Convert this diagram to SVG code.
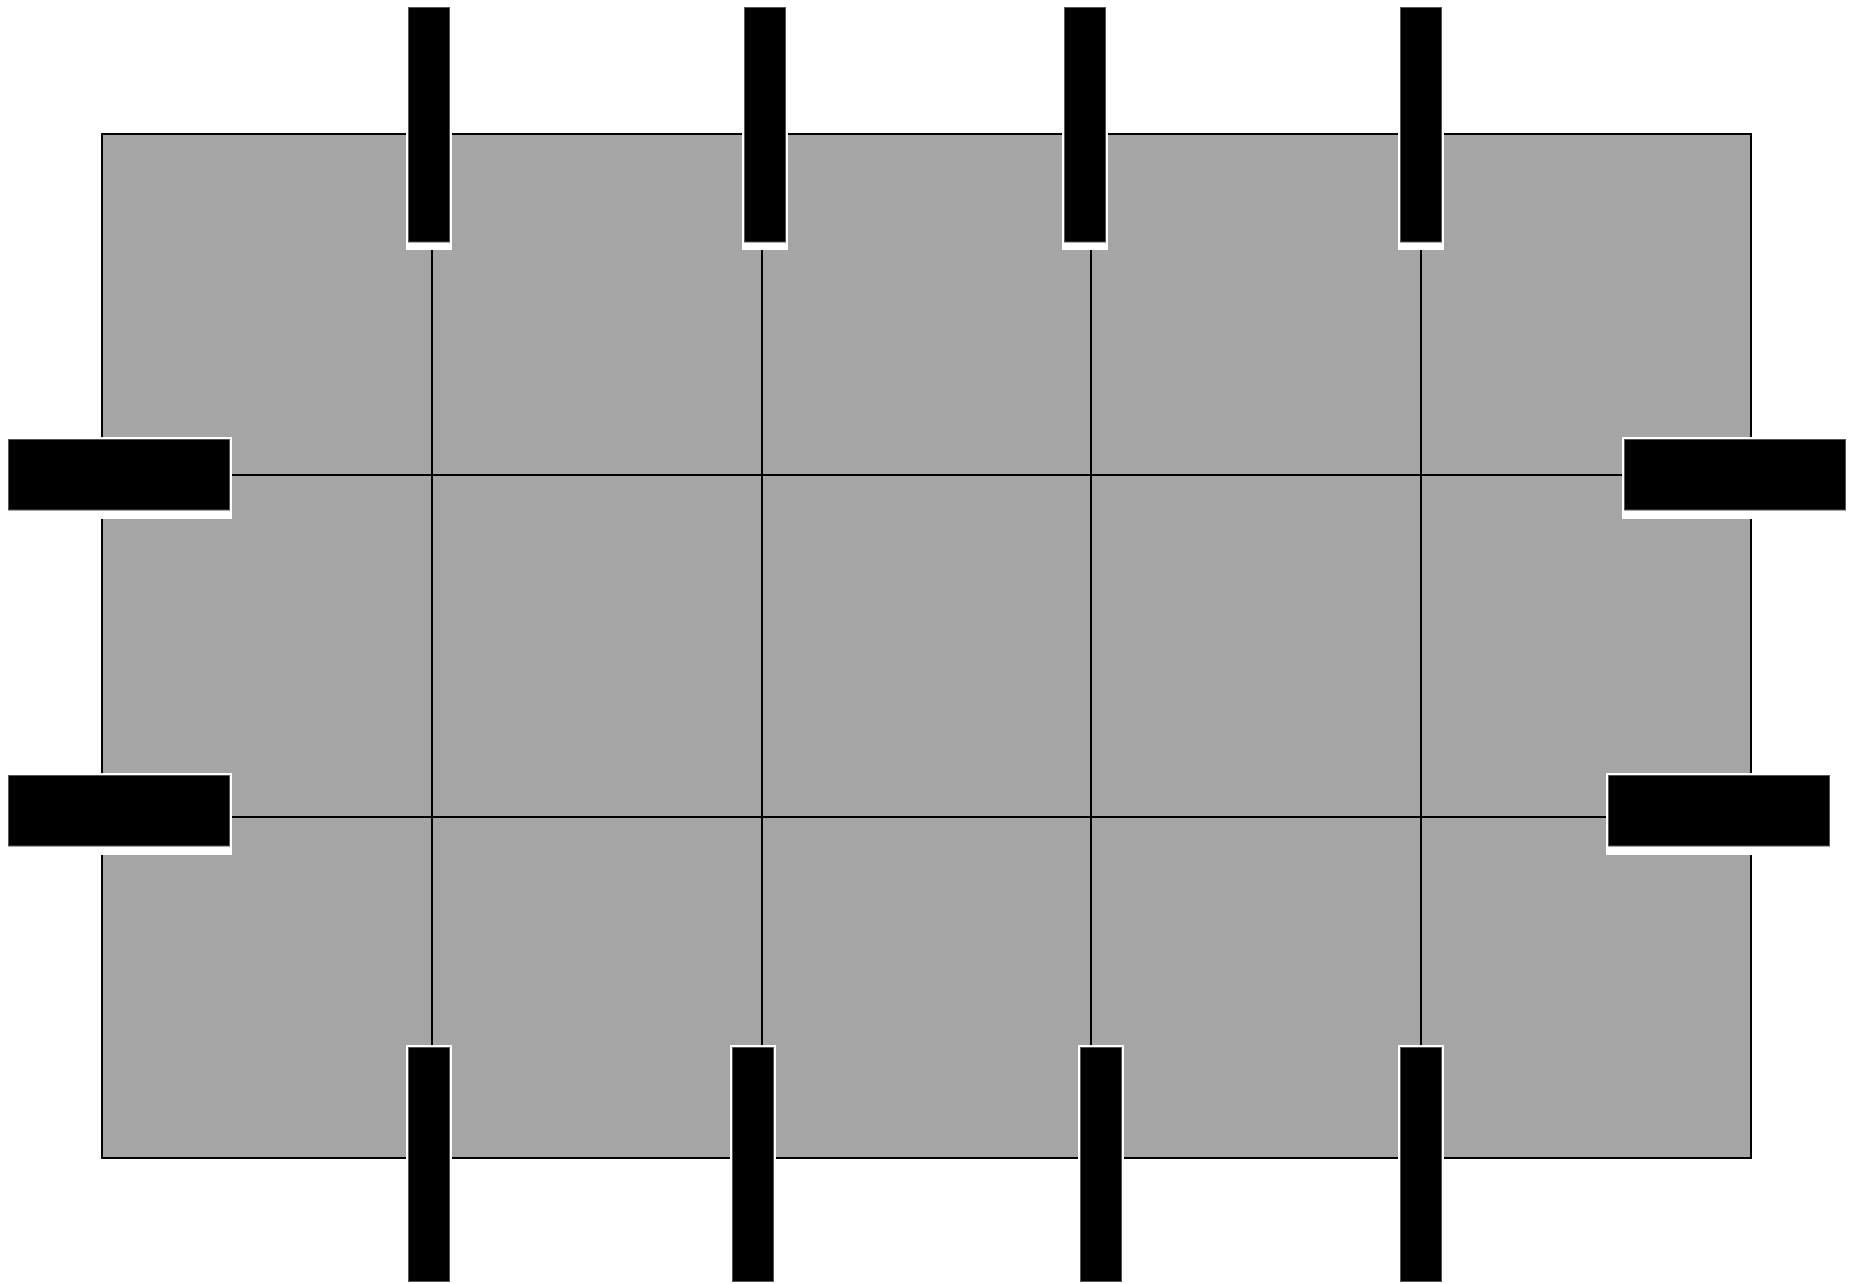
<svg xmlns="http://www.w3.org/2000/svg" width="1856" height="1284" viewBox="0 0 1856 1284">
<style>
.bg{fill:#a5a5a5;stroke:#000;stroke-width:2}
.ln{stroke:#000;stroke-width:2;fill:none}
.halo{fill:#fff;stroke:none}
.blk{fill:#000;stroke:#555;stroke-width:1}
</style>
<rect width="1856" height="1284" fill="#fff"/>
<rect class="bg" x="102" y="134" width="1649" height="1024"/>
<g id="connectors">
<line class="ln" x1="432" y1="134" x2="432" y2="1158"/>
<line class="ln" x1="762" y1="134" x2="762" y2="1158"/>
<line class="ln" x1="1091" y1="134" x2="1091" y2="1158"/>
<line class="ln" x1="1421" y1="134" x2="1421" y2="1158"/>
<line class="ln" x1="102" y1="475" x2="1751" y2="475"/>
<line class="ln" x1="102" y1="817" x2="1751" y2="817"/>
</g>
<g id="top1"><rect class="halo" x="406" y="5" width="46" height="245"/><rect class="blk" x="408.5" y="7.5" width="41" height="234.5"/></g>
<g id="top2"><rect class="halo" x="742" y="5" width="46" height="245"/><rect class="blk" x="744.5" y="7.5" width="41" height="234.5"/></g>
<g id="top3"><rect class="halo" x="1062" y="5" width="46" height="245"/><rect class="blk" x="1064.5" y="7.5" width="41" height="234.5"/></g>
<g id="top4"><rect class="halo" x="1398" y="5" width="46" height="245"/><rect class="blk" x="1400.5" y="7.5" width="41" height="234.5"/></g>
<g id="bottom1"><rect class="halo" x="406" y="1045" width="46" height="239"/><rect class="blk" x="408.5" y="1047.5" width="41" height="234"/></g>
<g id="bottom2"><rect class="halo" x="730" y="1045" width="46" height="239"/><rect class="blk" x="732.5" y="1047.5" width="41" height="234"/></g>
<g id="bottom3"><rect class="halo" x="1078" y="1045" width="46" height="239"/><rect class="blk" x="1080.5" y="1047.5" width="41" height="234"/></g>
<g id="bottom4"><rect class="halo" x="1398" y="1045" width="46" height="239"/><rect class="blk" x="1400.5" y="1047.5" width="41" height="234"/></g>
<g id="left1"><rect class="halo" x="6" y="437" width="226" height="82"/><rect class="blk" x="8.5" y="439.5" width="221" height="70.5"/></g>
<g id="left2"><rect class="halo" x="6" y="773" width="226" height="82"/><rect class="blk" x="8.5" y="775.5" width="221" height="70.5"/></g>
<g id="right1"><rect class="halo" x="1622" y="437" width="226" height="82"/><rect class="blk" x="1624.5" y="439.5" width="221" height="70.5"/></g>
<g id="right2"><rect class="halo" x="1606" y="773" width="226" height="82"/><rect class="blk" x="1608.5" y="775.5" width="221" height="70.5"/></g>
</svg>
